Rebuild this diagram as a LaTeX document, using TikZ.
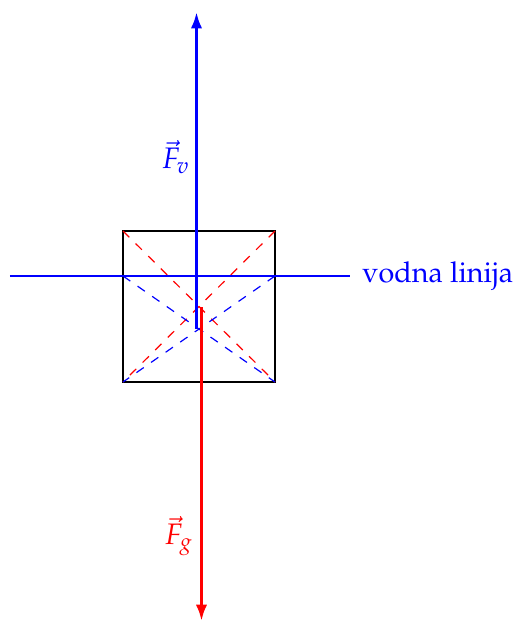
\documentclass[tikz,border=0pt]{standalone}
\usepackage[T1]{fontenc}
\usepackage{mathpazo}
\usetikzlibrary{arrows.meta}
\begin{document}
\begin{tikzpicture}[x=0.3375pt,y=-0.3375pt,
  box/.style={draw=black,line width=0.8pt},
  diag/.style={dashed,line width=0.4pt},
  force/.style={line width=1pt,-{Latex[length=5.5pt,width=3.8pt]}},
  water/.style={draw=blue,line width=0.7pt}]
\useasboundingbox (0,0) rectangle (517,622);
% square corners
\coordinate (tl) at (123,231);
\coordinate (tr) at (275,231);
\coordinate (bl) at (123,382);
\coordinate (br) at (275,382);
\coordinate (wl) at (123,276);
\coordinate (wr) at (275,276);
\draw[box] (tl) rectangle (br);
\draw[diag,red] (tl) -- (br) (tr) -- (bl);
\draw[diag,blue] (wl) -- (br) (wr) -- (bl);
% water line
\coordinate (w0) at (10,276);
\node[anchor=west,text=blue,inner xsep=0pt,inner ysep=2pt] (wlab) at (350,276) {\hspace{4pt}\fontsize{9.7pt}{11pt}\selectfont vodna linija};
\draw[water] (w0) -- (wlab.west);
% forces
\coordinate (vs) at (196.5,329);
\coordinate (ve) at (196.5,12);
\coordinate (gs) at (201.5,307);
\coordinate (ge) at (201.5,621);
\draw[force,blue] (vs) -- (ve);
\draw[force,red] (gs) -- (ge);
\node[text=blue,inner sep=1pt] (fv) at (176,157) {$\vec{F}_v$};
\node[text=red,inner sep=1pt] (fg) at (179,536) {$\vec{F}_g$};
\end{tikzpicture}
\end{document}
